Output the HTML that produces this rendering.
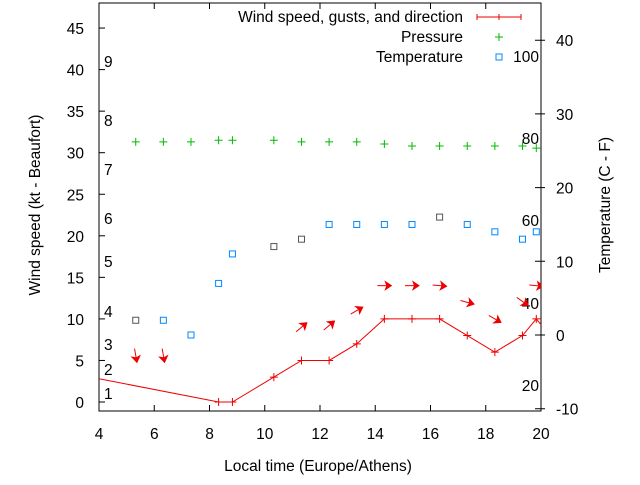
<!DOCTYPE html>
<html><head><meta charset="utf-8"><style>
body{margin:0;background:#fff}
svg text{font-family:"Liberation Sans",sans-serif;font-size:15.5px;fill:#000}
</style></head><body>
<svg id="chart" width="640" height="480" viewBox="0 0 640 480">
<defs><clipPath id="clip"><rect x="99" y="3" width="442" height="408"/></clipPath></defs>
<g id="axes"></g>
<g id="marks" clip-path="url(#clip)"></g>
<text x="318" y="471" text-anchor="middle">Local time (Europe/Athens)</text>
<text transform="translate(40,205) rotate(-90)" text-anchor="middle">Wind speed (kt - Beaufort)</text>
<text transform="translate(610,205) rotate(-90)" text-anchor="middle">Temperature (C - F)</text>
<g>
<text x="463" y="22" text-anchor="end">Wind speed, gusts, and direction</text>
<path d="M477 17H521M477 14V20M499 14V20M521 14V20" stroke="#e00" stroke-width="1"/>
<text x="463" y="42" text-anchor="end">Pressure</text>
<path d="M495 37H503M499 33V41" stroke="#0b0"/>
<text x="463" y="62" text-anchor="end">Temperature</text>
<rect x="496" y="54" width="6" height="6" fill="none" stroke="#08f"/>
</g>
</svg>
<script>
const times = [5.33,6.33,7.33,8.33,8.83,10.33,11.33,12.33,13.33,14.33,15.33,16.33,17.33,18.33,19.33,19.83];
const windTimes = [4,8.33,8.83,10.33,11.33,12.33,13.33,14.33,15.33,16.33,17.33,18.33,19.33,19.83,20.33];
const windSpeed = [2.8,0,0,3,5,5,7,10,10,10,8,6,8,10,8];
const temperature = [2,2,0,7,11,12,13,15,15,15,15,16,15,14,13,14];
const tempGray = [1,0,0,0,0,1,1,0,0,0,0,1,0,0,0,0];
const pressure = [31.3,31.3,31.3,31.5,31.5,31.5,31.3,31.3,31.3,31.05,30.8,30.8,30.8,30.8,30.8,30.55];
const arrowTimes = [5.33,6.33,11.33,12.33,13.33,14.33,15.33,16.33,17.33,18.33,19.33,19.83];
const arrowGust = [5.6,5.6,9,9.2,11,14,14,14,12,10,12.1,14];
const arrowAngle = [80,80,-40,-40,-30,0,0,5,15,30,35,5];
const xTicks = [4,6,8,10,12,14,16,18,20];
const leftTicks = [0,5,10,15,20,25,30,35,40,45];
const rightTicks = [-10,0,10,20,30,40];
const beaufort = [[1,393],[2,369],[3,344],[4,311],[5,261],[6,218],[7,169],[8,120],[9,61]];
const fahr = [[20,385],[40,303],[60,220],[80,138],[100,56]];

const NS="http://www.w3.org/2000/svg";
const X0=99,X1=541,YT=3,YB=411;
const xS=t=>X0+(t-4)*(X1-X0)/16;
const yL=v=>402-v*8.31;
const yR=v=>335-v*7.37;
function mk(tag,attrs,parent,txt){const e=document.createElementNS(NS,tag);for(const k in attrs)e.setAttribute(k,attrs[k]);if(txt!==undefined)e.textContent=txt;parent.appendChild(e);return e;}
const axes=document.getElementById('axes'), marks=document.getElementById('marks');
let f=mk('rect',{x:X0,y:YT,width:X1-X0,height:YB-YT,fill:'none',stroke:'#000'},axes);


xTicks.forEach(t=>{
 let l=mk('path',{d:`M${xS(t)} ${YB}v-6M${xS(t)} ${YT}v6`,stroke:'#000'},axes);
 
 
 let tx=mk('text',{x:xS(t),y:YB+28,'text-anchor':'middle'},axes,t);
 
 
});
leftTicks.forEach(v=>{
 let l=mk('path',{d:`M${X0} ${yL(v)}h6`,stroke:'#000'},axes);
 
 
 let tx=mk('text',{x:84,y:yL(v)+6,'text-anchor':'end'},axes,v);
 
 
});
rightTicks.forEach(v=>{
 let l=mk('path',{d:`M${X1} ${yR(v)}h-6M${X1} ${yR(v)}h4`,stroke:'#000'},axes);
 
 
 let tx=mk('text',{x:556,y:yR(v)+6,'text-anchor':'start'},axes,v);
 
 
});
beaufort.forEach(b=>{
 let tx=mk('text',{x:104,y:b[1]+6},axes,b[0]);
 
 
});
fahr.forEach(b=>{
 let tx=mk('text',{x:539,y:b[1]+6,'text-anchor':'end'},axes,b[0]);
 
 
});
let pl=mk('polyline',{points:windTimes.map((t,i)=>xS(t)+','+yL(windSpeed[i])).join(' '),fill:'none',stroke:'#e00'},marks);


windTimes.forEach((t,i)=>{if(i===0)return;
 let p=mk('path',{d:`M${xS(t)-4} ${yL(windSpeed[i])}h8M${xS(t)} ${yL(windSpeed[i])-4}v8`,stroke:'#e00'},marks);
 
 
});
times.forEach((t,i)=>{
 let p=mk('path',{d:`M${xS(t)-4} ${yL(pressure[i])}h8M${xS(t)} ${yL(pressure[i])-4}v8`,stroke:'#0b0'},marks);
 
 
});
times.forEach((t,i)=>{
 let r=mk('rect',{x:xS(t)-3,y:yR(temperature[i])-3,width:6,height:6,fill:'none',stroke:tempGray[i]?'#555':'#08f'},marks);
 
 
});
arrowTimes.forEach((t,i)=>{
 const cx=xS(t),cy=yL(arrowGust[i]);
 const g=mk('g',{transform:`translate(${cx},${cy}) rotate(${arrowAngle[i]})`},marks);
 
 
 mk('path',{d:'M-7 0H6',stroke:'#e00','stroke-width':1},g);
 mk('path',{d:'M7 0L1 -4L2.5 0L1 4Z',fill:'#e00',stroke:'#e00'},g);
});
</script>
</body></html>
